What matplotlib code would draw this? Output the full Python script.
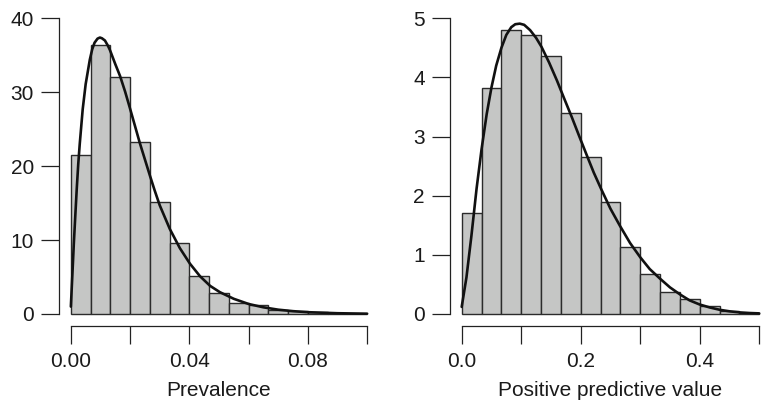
import numpy as np
import matplotlib
matplotlib.use("Agg")
import matplotlib.pyplot as plt

plt.rcParams['font.family'] = ['Liberation Sans', 'DejaVu Sans']

# --- data ---
# prevalence histogram (density), 15 bins over 0..0.1
prev_breaks = np.linspace(0, 0.1, 16)
prev_density = [21.5, 36.4, 32.0, 23.3, 15.2, 9.6, 5.2, 2.9, 1.5, 1.2,
                0.6, 0.35, 0.2, 0.1, 0.05]
# fitted density curve for prevalence
prev_curve_x = [0, 0.0005, 0.001, 0.0015, 0.002, 0.0025, 0.003, 0.004, 0.005,
                0.0064, 0.0072, 0.008, 0.009, 0.0098, 0.0105, 0.0115, 0.0125,
                0.0132, 0.015, 0.0166, 0.0183, 0.0199, 0.0216, 0.0233, 0.025,
                0.0267, 0.0283, 0.030, 0.0334, 0.0368, 0.0402, 0.0436, 0.047,
                0.0503, 0.055, 0.06, 0.065, 0.07, 0.075, 0.08, 0.09, 0.1]
prev_curve_y = [1.0, 5.2, 9.5, 13.3, 17.0, 20.3, 23.0, 27.7, 31.1,
                34.4, 35.8, 36.7, 37.25, 37.4, 37.3, 37.0, 36.3,
                35.7, 33.8, 32.2, 30.1, 27.9, 25.5, 23.1, 20.9,
                18.7, 16.7, 14.7, 11.5, 8.9, 6.8, 5.1, 3.8,
                2.95, 2.05, 1.35, 0.9, 0.58, 0.38, 0.24, 0.1, 0.04]

# positive predictive value histogram, 15 bins over 0..0.5
ppv_breaks = np.linspace(0, 0.5, 16)
ppv_density = [1.71, 3.82, 4.80, 4.71, 4.37, 3.40, 2.66, 1.89, 1.14, 0.67,
               0.38, 0.25, 0.14, 0.045, 0.02]
ppv_curve_x = [0, 0.008, 0.0163, 0.025, 0.0333, 0.042, 0.05, 0.058, 0.0667,
               0.075, 0.0833, 0.09, 0.0976, 0.105, 0.115, 0.125, 0.134, 0.147,
               0.16, 0.172, 0.185, 0.197, 0.21, 0.222, 0.235, 0.25, 0.266,
               0.283, 0.3, 0.316, 0.333, 0.35, 0.367, 0.383, 0.4, 0.417,
               0.434, 0.45, 0.468, 0.484, 0.5]
ppv_curve_y = [0.12, 0.62, 1.32, 2.12, 2.78, 3.38, 3.83, 4.2, 4.5,
               4.72, 4.85, 4.9, 4.91, 4.89, 4.8, 4.67, 4.52, 4.25,
               3.95, 3.65, 3.33, 3.02, 2.69, 2.39, 2.1, 1.78, 1.49,
               1.2, 0.96, 0.76, 0.6, 0.45, 0.33, 0.23, 0.16, 0.11,
               0.07, 0.045, 0.026, 0.016, 0.01]

W, H = 761, 400
fig = plt.figure(figsize=(W / 100, H / 100), dpi=100)


def r_axes(left, right, bottom, top):
    # pixel box -> figure fraction
    return fig.add_axes([left / W, 1 - bottom / H, (right - left) / W, (bottom - top) / H])


def draw(ax, breaks, dens, cx, cy, xlim, ylim, xticks, yticks, xlabels, xlabel):
    ax.bar(breaks[:-1], dens, width=np.diff(breaks), align='edge',
           color='#c5c6c5', edgecolor='#2b2b2b', linewidth=1.0, zorder=2)
    ax.plot(cx, cy, color='#111111', linewidth=1.9, zorder=3,
            solid_capstyle='round', solid_joinstyle='round')
    ax.set_xlim(*xlim)
    ax.set_ylim(*ylim)
    for s in ['top', 'right']:
        ax.spines[s].set_visible(False)
    ax.spines['left'].set_bounds(yticks[0], yticks[-1])
    ax.spines['bottom'].set_bounds(xticks[0], xticks[-1])
    for s in ['left', 'bottom']:
        ax.spines[s].set_linewidth(0.9)
        ax.spines[s].set_color('#222222')
    ax.set_xticks(xticks)
    ax.set_xticklabels(xlabels)
    ax.set_yticks(yticks)
    ax.set_yticklabels([str(t) for t in yticks])
    ax.tick_params(direction='out', length=13, width=0.9, color='#222222',
                   labelsize=15, labelcolor='#1a1a1a')
    ax.tick_params(axis='y', pad=5)
    ax.tick_params(axis='x', pad=6)
    ax.set_xlabel(xlabel, fontsize=15, color='#1a1a1a', labelpad=7)
    ax.patch.set_alpha(0)


ax1 = r_axes(59, 379, 325.8, 6.5)
draw(ax1, prev_breaks, prev_density, prev_curve_x, prev_curve_y,
     (-0.004, 0.104), (-1.6, 41.6),
     [0, 0.02, 0.04, 0.06, 0.08, 0.1], [0, 10, 20, 30, 40],
     ['0.00', '', '0.04', '', '0.08', ''], 'Prevalence')

ax2 = r_axes(449.8, 771.1, 325.8, 6.5)
draw(ax2, ppv_breaks, ppv_density, ppv_curve_x, ppv_curve_y,
     (-0.02, 0.52), (-0.2, 5.2),
     [0, 0.1, 0.2, 0.3, 0.4, 0.5], [0, 1, 2, 3, 4, 5],
     ['0.0', '', '0.2', '', '0.4', ''], 'Positive predictive value')

fig.savefig('out.png', dpi=100)
